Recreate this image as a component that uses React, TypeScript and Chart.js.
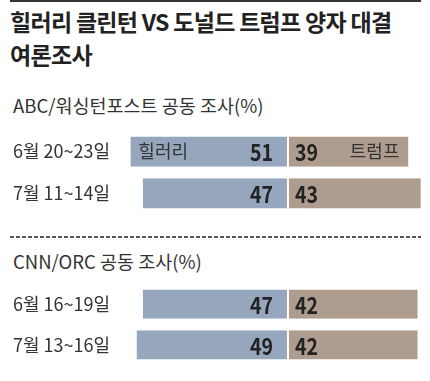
import React, { useEffect, useRef } from "react";
import { Chart, registerables } from "chart.js";

Chart.register(...registerables);

const TITLE_1 = "힐러리 클린턴 VS 도널드 트럼프 양자 대결";
const TITLE_2 = "여론조사";

const ABC_TITLE = "ABC/워싱턴포스트 공동 조사(%)";
const ABC_DATES = ["6월 20~23일", "7월 11~14일"];
const ABC_CLINTON = [51, 47];
const ABC_TRUMP = [39, 43];

const CNN_TITLE = "CNN/ORC 공동 조사(%)";
const CNN_DATES = ["6월 16~19일", "7월 13~16일"];
const CNN_CLINTON = [47, 49];
const CNN_TRUMP = [42, 42];

const CLINTON_NAME = "힐러리";
const TRUMP_NAME = "트럼프";

const X_MIN = -55;
const X_MAX = 45;

const FONT = "'Noto Sans CJK KR', 'Noto Sans', sans-serif";
const BLUE = "#96a6bc";
const BROWN = "#ae9d8f";

const drawCondensed = (ctx: any, s: string, px: number, py: number, align: string) => {
  ctx.save();
  ctx.translate(px, py);
  ctx.scale(0.85, 1);
  ctx.textAlign = align;
  ctx.fillText(s, 0, 0);
  ctx.restore();
};

const labelPlugin = {
  id: "barLabels",
  afterDatasetsDraw(chart: any) {
    const ctx = chart.ctx;
    const showNames = chart.options.plugins.barLabels?.showNames;
    ctx.save();
    ctx.textBaseline = "middle";
    chart.data.datasets.forEach((ds: any, di: number) => {
      const meta = chart.getDatasetMeta(di);
      meta.data.forEach((bar: any, i: number) => {
        const { x, y, base } = bar.getProps(["x", "y", "base"], true);
        const v = Math.abs(ds.data[i]);
        ctx.fillStyle = "#222";
        ctx.font = `bold 23px ${FONT}`;
        if (di === 0) {
          drawCondensed(ctx, String(v), base - 15, y + 1, "right");
          if (showNames && i === 0) {
            ctx.font = `18px ${FONT}`;
            ctx.fillStyle = "#333";
            ctx.textAlign = "left";
            ctx.fillText(ds.label, x + 8, y);
          }
        } else {
          drawCondensed(ctx, String(v), base + 7, y + 1, "left");
          if (showNames && i === 0) {
            ctx.font = `18px ${FONT}`;
            ctx.fillStyle = "#333";
            ctx.textAlign = "right";
            ctx.fillText(ds.label, x - 9, y);
          }
        }
      });
    });
    ctx.restore();
  },
};

function BarBlock(props: {
  dates: string[];
  clinton: number[];
  trump: number[];
  showNames: boolean;
  top: number;
  height: number;
  barFrac: number;
}) {
  const ref = useRef<HTMLCanvasElement>(null);
  useEffect(() => {
    if (!ref.current) return;
    const chart = new Chart(ref.current, {
      type: "bar",
      data: {
        labels: props.dates,
        datasets: [
          {
            label: CLINTON_NAME,
            data: props.clinton.map((v) => -v),
            backgroundColor: BLUE,
            borderColor: "#ffffff",
            borderWidth: { left: 0, right: 1, top: 0, bottom: 0 },
            borderSkipped: false,
            categoryPercentage: 1,
            barPercentage: props.barFrac,
          },
          {
            label: TRUMP_NAME,
            data: props.trump,
            backgroundColor: BROWN,
            borderColor: "#ffffff",
            borderWidth: { left: 1, right: 0, top: 0, bottom: 0 },
            borderSkipped: false,
            categoryPercentage: 1,
            barPercentage: props.barFrac,
          },
        ],
      },
      options: {
        indexAxis: "y",
        responsive: false,
        animation: false,
        layout: { padding: { left: 13, right: 3, top: 0, bottom: 0 } },
        plugins: {
          legend: { display: false },
          tooltip: { enabled: false },
          barLabels: { showNames: props.showNames },
        } as any,
        scales: {
          x: {
            display: false,
            stacked: true,
            min: X_MIN,
            max: X_MAX,
          },
          y: {
            stacked: true,
            grid: { display: false, drawTicks: false },
            border: { display: false },
            afterFit: (scale: any) => {
              scale.width = 105;
            },
            ticks: {
              crossAlign: "far",
              color: "#333",
              font: { family: FONT, size: 18 },
              padding: 0,
            },
          },
        },
      } as any,
      plugins: [labelPlugin],
    });
    return () => chart.destroy();
  }, []);
  return (
    <canvas
      ref={ref}
      width={430}
      height={props.height}
      style={{ position: "absolute", left: 0, top: props.top, width: 430, height: props.height }}
    />
  );
}

export default function App() {
  const text = (top: number, size: number, weight: number, content: string, extra: any = {}) => (
    <div
      style={{
        position: "absolute",
        left: 10,
        top,
        fontFamily: FONT,
        fontSize: size,
        fontWeight: weight,
        lineHeight: `${size}px`,
        whiteSpace: "nowrap",
        color: "#222",
        ...extra,
      }}
    >
      {content}
    </div>
  );
  return (
    <div
      style={{
        position: "absolute",
        left: 0,
        top: 0,
        width: 430,
        height: 381,
        background: "#ffffff",
        overflow: "hidden",
      }}
    >
      <div style={{ position: "absolute", left: 10, top: 0, width: 411, height: 2, background: "#333" }} />
      {text(10, 23, 700, TITLE_1, { letterSpacing: "-0.7px" })}
      {text(43, 23, 700, TITLE_2, { letterSpacing: "-0.7px" })}
      {text(96, 18.5, 400, ABC_TITLE, { left: 13, color: "#333" })}
      <BarBlock dates={ABC_DATES} clinton={ABC_CLINTON} trump={ABC_TRUMP} showNames={true} top={120} height={105} barFrac={0.73} />
      <div
        style={{
          position: "absolute",
          left: 10,
          top: 236,
          width: 411,
          height: 2,
          background: "repeating-linear-gradient(to right, #555 0px, #555 4px, transparent 4px, transparent 6px)",
        }}
      />
      {text(252, 18.5, 400, CNN_TITLE, { left: 13, color: "#333" })}
      <BarBlock dates={CNN_DATES} clinton={CNN_CLINTON} trump={CNN_TRUMP} showNames={false} top={273} height={103} barFrac={0.72} />
    </div>
  );
}
